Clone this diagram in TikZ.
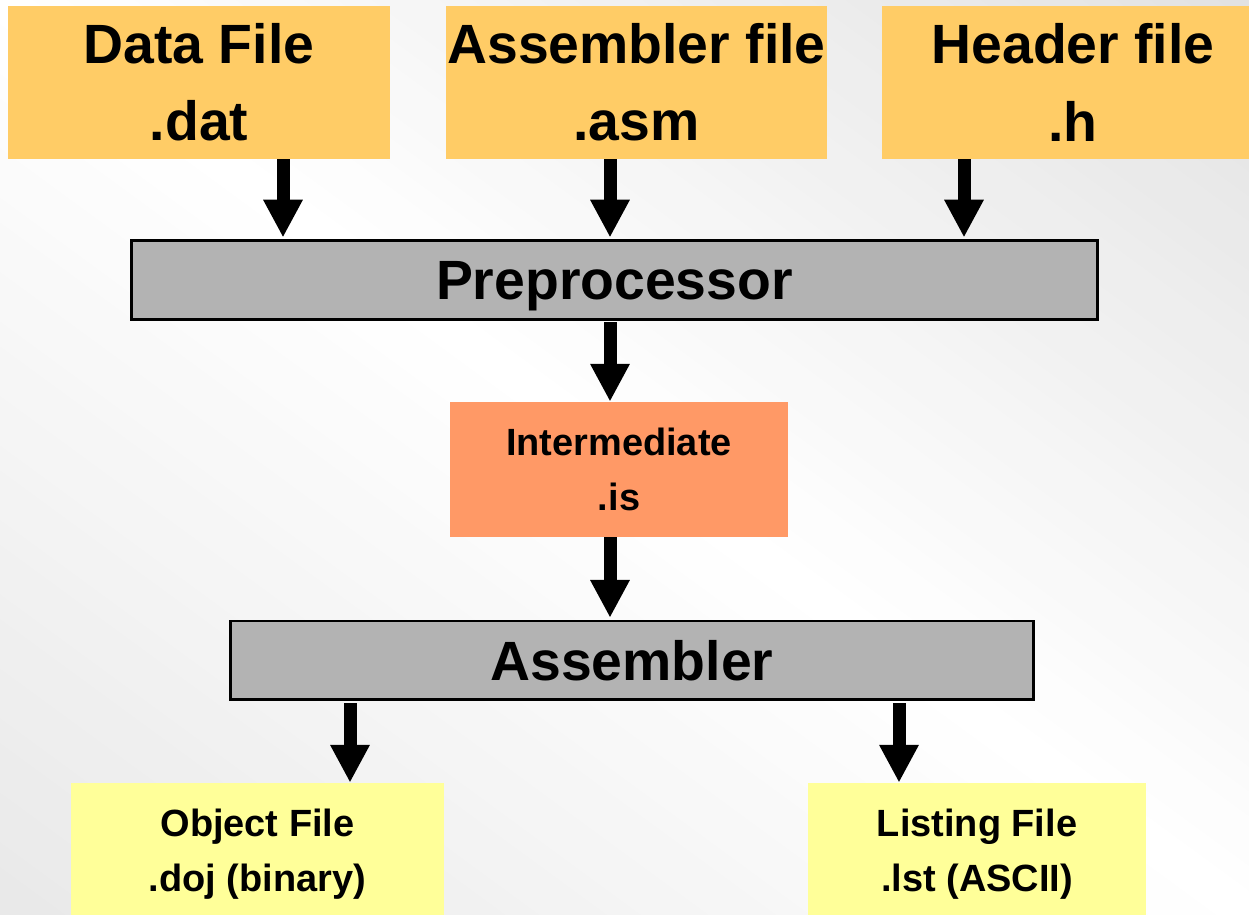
\documentclass[tikz,border=0pt]{standalone}
\usepackage{fontspec}
\setmainfont{Liberation Sans}
\usetikzlibrary{arrows.meta}
\definecolor{srcfill}{HTML}{FFCC66}
\definecolor{procfill}{HTML}{B3B3B3}
\definecolor{midfill}{HTML}{FF9966}
\definecolor{outfill}{HTML}{FFFF99}
\tikzset{
  big/.style={font=\fontsize{31.5}{44}\selectfont\bfseries, align=center},
  small/.style={font=\fontsize{21.6}{31}\selectfont\bfseries, align=center},
  srcbox/.style={big, fill=srcfill, inner sep=0pt, minimum width=7.64cm, minimum height=3.06cm},
  procbox/.style={big, fill=procfill, draw=black, line width=1.7pt, inner sep=0pt, text depth=0pt, minimum height=1.58cm},
  midbox/.style={small, fill=midfill, inner sep=0pt, minimum width=6.76cm, minimum height=2.7cm},
  outbox/.style={small, fill=outfill, inner sep=0pt, minimum height=2.84cm},
  flow/.style={line width=7.4pt, -{Triangle[length=21.5pt,width=21pt]}}
}
\begin{document}
\begin{tikzpicture}[x=0.02cm,y=-0.02cm]
\useasboundingbox (0,0) rectangle (1249,915);
\clip (0,0) rectangle (1249,915);
% backdrop: white along the main diagonal, greying towards the
% top-right and bottom-left corners (drawn as thin diagonal bands)
\fill[white] (0,0) rectangle (1249,915);
\begin{scope}[rotate=-36.22]
  \foreach \i in {0,...,37}{
    \pgfmathsetmacro{\up}{11.5*\i/37}
    \pgfmathsetmacro{\dn}{9*\i/37}
    \fill[black!\up] (-300,{-20*\i-21}) rectangle (1900,{-20*\i});
    \fill[black!\dn] (-300,{20*\i}) rectangle (1900,{20*\i+21});
  }
\end{scope}

% source files
\node[srcbox] (dat) at (199,82.5) {Data File\\.dat};
\node[srcbox] (asm) at (636.5,82.5) {Assembler file\\.asm};
\node[srcbox] (hdr) at (1073,82.5) {Header file\\.h};

% tools and intermediate file
\node[procbox, minimum width=19.31cm, minimum height=1.57cm] (pre) at (614.5,280) {Preprocessor};
\node[midbox] (is) at (619,469.5) {Intermediate\\.is};
\node[procbox, minimum width=16.05cm] (as) at (632,660.5) {Assembler};

% outputs
\node[outbox, minimum width=7.46cm] (obj) at (257.5,854) {Object File\\.doj (binary)};
\node[outbox, minimum width=6.76cm] (lst) at (977,854) {Listing File\\.lst (ASCII)};

% arrow columns
\coordinate (c1) at (283,0);
\coordinate (c2) at (610,0);
\coordinate (c3) at (964,0);
\coordinate (c4) at (350,0);
\coordinate (c5) at (899,0);

\draw[flow] (dat.south -| c1) -- ([yshift=1pt]pre.north -| c1);
\draw[flow] (asm.south -| c2) -- ([yshift=1pt]pre.north -| c2);
\draw[flow] (hdr.south -| c3) -- ([yshift=1pt]pre.north -| c3);
\draw[flow] ([yshift=-1pt]pre.south -| c2) -- (is.north -| c2);
\draw[flow] (is.south -| c2) -- ([yshift=1pt]as.north -| c2);
\draw[flow] ([yshift=-1pt]as.south -| c4) -- (obj.north -| c4);
\draw[flow] ([yshift=-1pt]as.south -| c5) -- (lst.north -| c5);
\end{tikzpicture}
\end{document}
